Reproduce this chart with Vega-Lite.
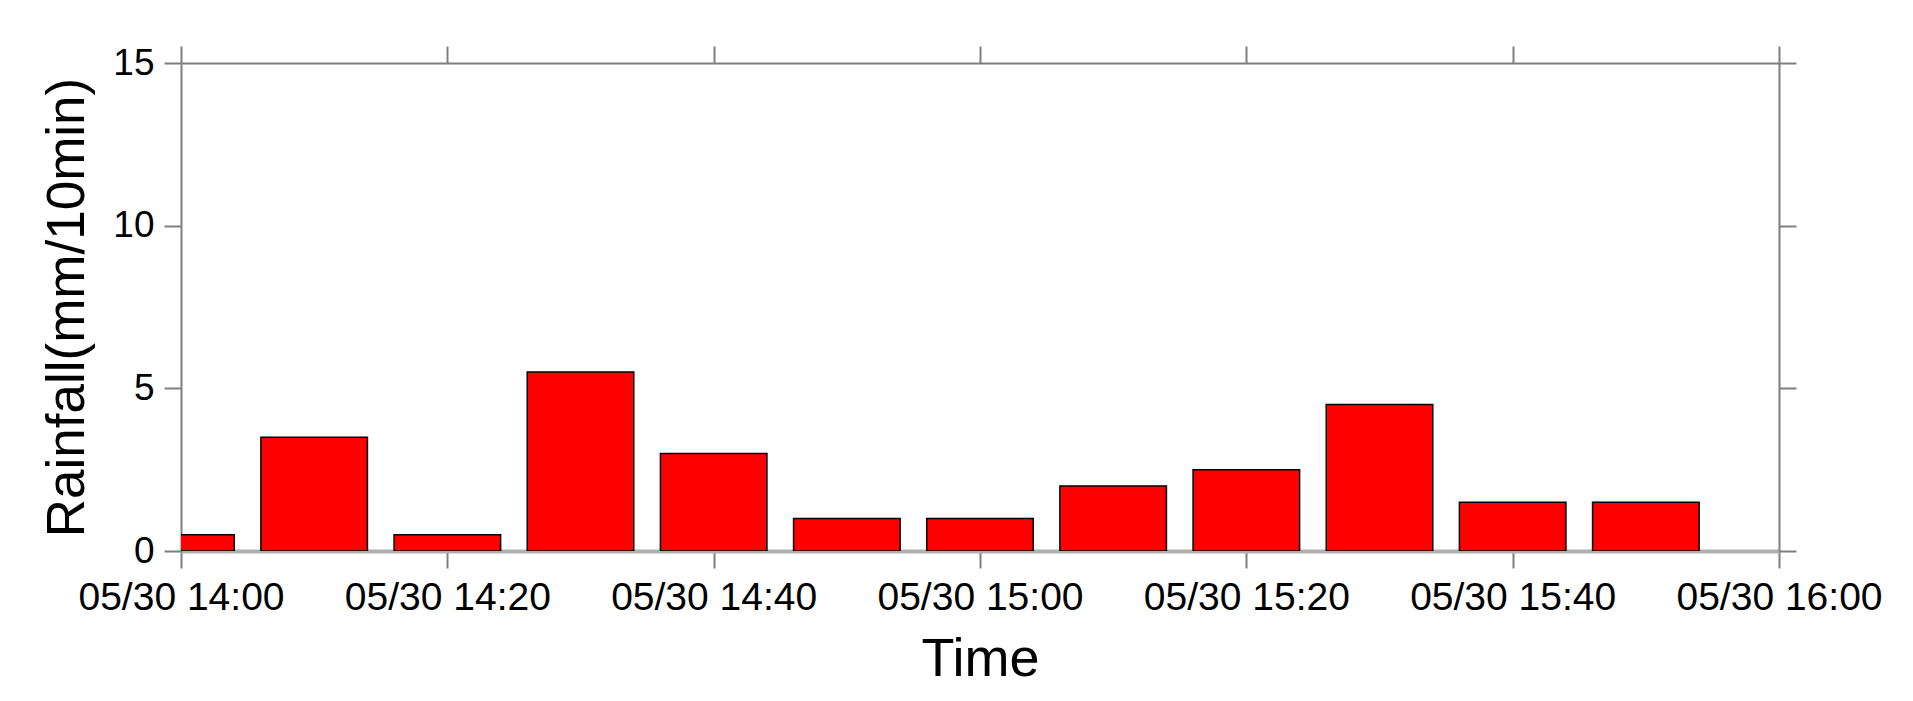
{
  "$schema": "https://vega.github.io/schema/vega-lite/v6.json",
  "autosize": "none",
  "width": 1598,
  "height": 488,
  "padding": {"left": 181, "top": 63, "right": 134, "bottom": 150},
  "background": "white",
  "config": {
    "view": {"stroke": null},
    "font": "Liberation Sans",
    "axis": {
      "domainColor": "#7f7f7f",
      "domainWidth": 2,
      "tickColor": "#7f7f7f",
      "tickWidth": 2,
      "tickSize": 17,
      "grid": false,
      "labelFont": "Liberation Sans",
      "labelFontSize": 37,
      "labelLimit": 0,
      "labelColor": "black",
      "titleFont": "Liberation Sans",
      "titleFontSize": 53,
      "titleFontWeight": "normal",
      "titleColor": "black"
    }
  },
  "data": {
    "values": [
      {"start": "2020-05-30T13:56:00", "end": "2020-05-30T14:04:00", "rain": 0.5},
      {"start": "2020-05-30T14:06:00", "end": "2020-05-30T14:14:00", "rain": 3.5},
      {"start": "2020-05-30T14:16:00", "end": "2020-05-30T14:24:00", "rain": 0.5},
      {"start": "2020-05-30T14:26:00", "end": "2020-05-30T14:34:00", "rain": 5.5},
      {"start": "2020-05-30T14:36:00", "end": "2020-05-30T14:44:00", "rain": 3.0},
      {"start": "2020-05-30T14:46:00", "end": "2020-05-30T14:54:00", "rain": 1.0},
      {"start": "2020-05-30T14:56:00", "end": "2020-05-30T15:04:00", "rain": 1.0},
      {"start": "2020-05-30T15:06:00", "end": "2020-05-30T15:14:00", "rain": 2.0},
      {"start": "2020-05-30T15:16:00", "end": "2020-05-30T15:24:00", "rain": 2.5},
      {"start": "2020-05-30T15:26:00", "end": "2020-05-30T15:34:00", "rain": 4.5},
      {"start": "2020-05-30T15:36:00", "end": "2020-05-30T15:44:00", "rain": 1.5},
      {"start": "2020-05-30T15:46:00", "end": "2020-05-30T15:54:00", "rain": 1.5}
    ]
  },
  "layer": [
    {
      "mark": {"type": "rect", "fill": "#ff0000", "stroke": "black", "strokeWidth": 1.5, "clip": true},
      "encoding": {
        "x": {
          "field": "start", "type": "temporal",
          "scale": {"domain": [{"year": 2020, "month": 5, "date": 30, "hours": 14, "minutes": 0}, {"year": 2020, "month": 5, "date": 30, "hours": 16, "minutes": 0}]},
          "axis": {
            "orient": "bottom",
            "title": "Time",
            "titleFontSize": 54,
            "format": "%m/%d %H:%M",
            "labelFontSize": 39,
            "domainColor": "#b0b0b0",
            "domainWidth": 4,
            "labelPadding": 10,
            "titlePadding": 15,
            "labelFlush": false,
            "labelOverlap": false,
            "values": [
              {"year": 2020, "month": 5, "date": 30, "hours": 14, "minutes": 0},
              {"year": 2020, "month": 5, "date": 30, "hours": 14, "minutes": 20},
              {"year": 2020, "month": 5, "date": 30, "hours": 14, "minutes": 40},
              {"year": 2020, "month": 5, "date": 30, "hours": 15, "minutes": 0},
              {"year": 2020, "month": 5, "date": 30, "hours": 15, "minutes": 20},
              {"year": 2020, "month": 5, "date": 30, "hours": 15, "minutes": 40},
              {"year": 2020, "month": 5, "date": 30, "hours": 16, "minutes": 0}
            ]
          }
        },
        "x2": {"field": "end"},
        "y": {
          "field": "rain", "type": "quantitative",
          "scale": {"domain": [0, 15], "nice": false},
          "axis": {"orient": "left", "title": "Rainfall(mm/10min)", "values": [0, 5, 10, 15], "labelPadding": 10, "titlePadding": 18, "labelFlush": false}
        },
        "y2": {"datum": 0}
      }
    },
    {
      "mark": {"type": "point", "opacity": 0},
      "encoding": {
        "x": {
          "field": "start", "type": "temporal",
          "axis": {
            "orient": "top", "title": null, "labels": false,
            "values": [
              {"year": 2020, "month": 5, "date": 30, "hours": 14, "minutes": 0},
              {"year": 2020, "month": 5, "date": 30, "hours": 14, "minutes": 20},
              {"year": 2020, "month": 5, "date": 30, "hours": 14, "minutes": 40},
              {"year": 2020, "month": 5, "date": 30, "hours": 15, "minutes": 0},
              {"year": 2020, "month": 5, "date": 30, "hours": 15, "minutes": 20},
              {"year": 2020, "month": 5, "date": 30, "hours": 15, "minutes": 40},
              {"year": 2020, "month": 5, "date": 30, "hours": 16, "minutes": 0}
            ]
          }
        },
        "y": {
          "field": "rain", "type": "quantitative",
          "axis": {"orient": "right", "title": null, "labels": false, "values": [0, 5, 10, 15]}
        }
      }
    }
  ]
}
